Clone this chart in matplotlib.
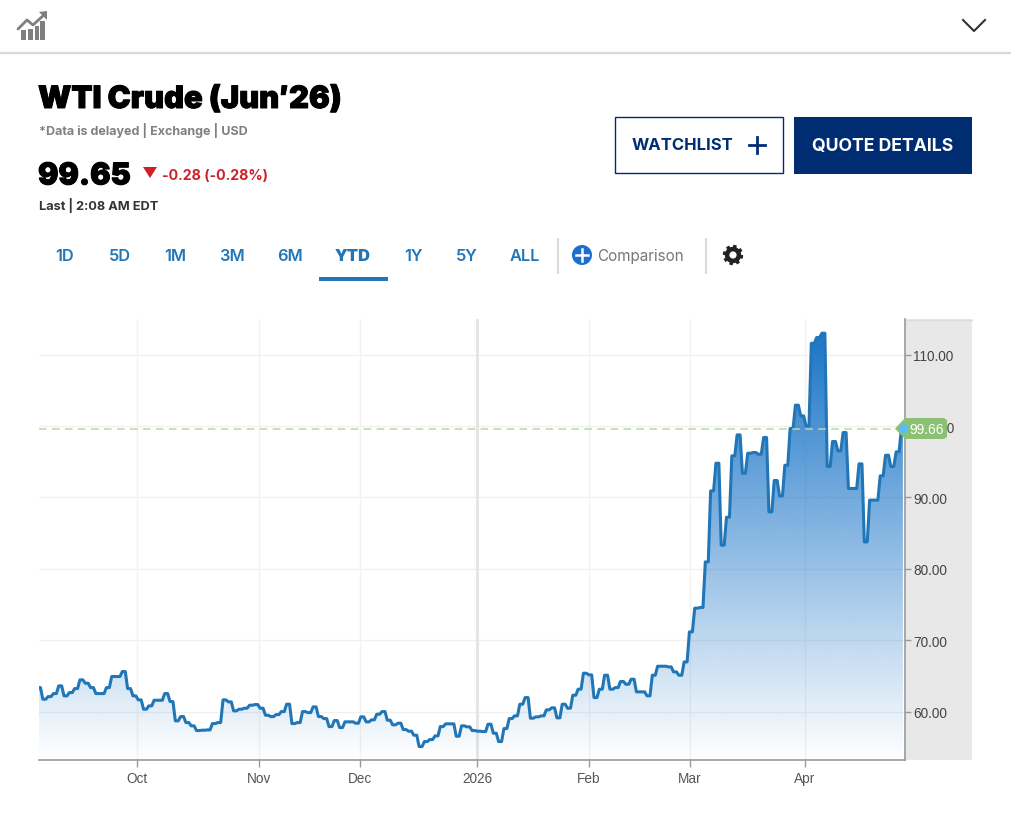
import numpy as np
import matplotlib
matplotlib.use("Agg")
import matplotlib.pyplot as plt
import matplotlib.patheffects as pe
from matplotlib.patches import Rectangle, Polygon, Circle
from matplotlib.ticker import FixedLocator, FuncFormatter
from matplotlib.colors import LinearSegmentedColormap

prices = [
 63.38,61.75,62.12,62.54,63.62,62.22,62.68,63.24,64.46,63.99,63.38,62.54,62.54,63.38,64.93,64.93,65.63,63.24,62.22,61.66,
 60.35,60.82,61.61,61.61,62.54,61.42,58.72,59.32,58.48,58.02,57.36,57.41,57.45,58.34,58.48,61.66,61.38,60.12,60.35,60.49,
 60.91,61.00,60.49,59.51,59.32,59.60,60.02,61.05,58.34,58.48,60.02,59.88,60.68,59.32,59.04,57.92,58.76,57.78,58.58,58.58,
 58.39,59.28,58.58,58.86,59.65,60.02,58.81,58.16,58.39,57.50,57.27,56.71,55.12,55.82,56.10,56.61,57.92,58.30,58.30,56.57,
 58.02,57.88,57.36,57.27,57.22,58.25,56.99,55.82,57.64,59.04,59.42,61.05,61.98,59.09,59.28,59.42,60.26,60.54,59.14,61.05,
 60.49,62.31,63.15,65.39,65.16,61.98,63.15,65.11,63.15,63.38,64.23,63.85,64.55,62.78,62.78,62.22,65.11,66.37,66.37,66.28,
 65.58,65.11,66.97,71.18,74.50,74.60,80.98,90.92,94.80,83.32,87.24,95.83,98.77,93.40,96.20,96.30,96.06,98.40,87.98,92.38,
 90.22,94.52,99.66,102.93,101.43,100.03,111.60,112.40,113.01,94.34,97.84,96.53,99.10,91.26,91.26,94.71,83.78,89.63,89.63,93.03,
 95.92,94.34,96.39,99.66]
month_labels = ["Oct", "Nov", "Dec", "2026", "Feb", "Mar", "Apr"]
month_index = [18.5, 41.5, 60.6, 82.7, 103.8, 122.8, 144.5]
y_ticks = [60, 70, 80, 90, 100, 110]
last_price = 99.66
tabs = ["1D", "5D", "1M", "3M", "6M", "YTD", "1Y", "5Y", "ALL"]
tab_x = [65, 120, 175, 232, 290, 353, 413, 467, 525]

W, H = 1011, 828
SANS = "Liberation Sans"
UI = "Inter"
NAVY = "#002d72"
BLUE = "#2176b8"

fig = plt.figure(figsize=(W / 100, H / 100), dpi=100, facecolor="white")


def make_ui(z):
    a = fig.add_axes([0, 0, 1, 1], zorder=z)
    a.set_xlim(0, W)
    a.set_ylim(H, 0)
    a.axis("off")
    return a


back = make_ui(0)
front = make_ui(2)

# chart panel
L, R, T, B = 39, 905, 320.2, 761.2
back.add_patch(Rectangle((R, T), 972 - R, B - T, fc="#e8e8e8", ec="none"))
back.plot([L, 972], [320.5, 320.5], color="#dcdcdc", lw=1)

ax = fig.add_axes([L / W, 1 - B / H, (R - L) / W, (B - T) / H], zorder=1)
idx = np.arange(len(prices), dtype=float)
values = np.array(prices)
step_px = 5.3
YMIN, YMAX = 53.21, 114.97
ax.set_xlim(0, (R - L) / step_px)
ax.set_ylim(YMIN, YMAX)

# plateau shape of each session, as the source chart renders it
xs = np.column_stack([idx - 0.28, idx + 0.28]).ravel()
ys = np.repeat(values, 2)
xs = np.clip(xs, 0, idx[-1])

ax.grid(False)
for v in y_ticks:
    ax.axhline(v, color="#f0f0f0", lw=1, zorder=1)
for lab, m in zip(month_labels, month_index):
    ax.axvline(m, color="#e4e4e4" if lab == "2026" else "#f2f2f2",
               lw=2 if lab == "2026" else 1.0, zorder=1)

cmap = LinearSegmentedColormap.from_list("f", [(26/255, 117/255, 200/255, 0.0), (26/255, 117/255, 200/255, 1.0)])
grad = np.linspace(1, 0, 256).reshape(-1, 1)
top = values.max()
im = ax.imshow(grad, cmap=cmap, vmin=0, vmax=1, extent=[0, idx[-1], YMIN, top],
               aspect="auto", zorder=2, interpolation="bilinear")
ax.set_xlim(0, (R - L) / step_px)
ax.set_ylim(YMIN, YMAX)
poly = Polygon(np.column_stack([np.r_[xs[0], xs, xs[-1]], np.r_[YMIN, ys, YMIN]]),
               closed=True, transform=ax.transData, fc="none", ec="none")
ax.add_patch(poly)
im.set_clip_path(poly)

ax.plot(xs, ys, color=BLUE, lw=2.2, solid_joinstyle="round", zorder=3)

ax.yaxis.tick_right()
ax.yaxis.set_major_locator(FixedLocator(y_ticks))
ax.yaxis.set_major_formatter(FuncFormatter(lambda v, p: f"{v:.2f}"))
ax.xaxis.set_major_locator(FixedLocator(month_index))
ax.set_xticklabels(month_labels, fontfamily=SANS, fontsize=9.8, color="#555555")
ax.tick_params(axis="y", length=4, width=1, color="#999999", pad=2, labelsize=9.8, labelcolor="#444444")
ax.tick_params(axis="x", length=5, width=1, color="#999999", pad=3)
for t in ax.get_yticklabels():
    t.set_fontfamily(SANS)
for s in ["top", "left"]:
    ax.spines[s].set_visible(False)
for s in ["right", "bottom"]:
    ax.spines[s].set_color("#999999")
    ax.spines[s].set_linewidth(1.2)

# current price marker and dashed line
py = T + (YMAX - last_price) / (YMAX - YMIN) * (B - T)
front.plot([L, 896], [py, py], color="#b8d9a8", lw=1.1, dashes=(5, 3.5))
front.add_patch(Polygon([(895, py), (905, 419), (944, 419), (947, 421), (947, 438), (944, 440), (905, 440)],
                        closed=True, fc="#8cc173", ec="none", zorder=5))
front.add_patch(Circle((904, py), 4.6, fc="#5cbcf7", ec="none", zorder=6))
front.text(909, py + 0.5, f"{last_price:.2f}", color="white", fontsize=10, family=SANS, va="center", ha="left", zorder=7)

# header
front.plot([0, W], [54, 54], color="#d9d9d9", lw=1.6)
front.plot([963, 974, 985], [21, 32, 21], color="#333333", lw=1.5)
for x0, top_y, wd in zip([21, 28, 35, 40], [31, 30, 27, 22], [5, 4.5, 3.5, 4.5]):
    front.add_patch(Rectangle((x0, top_y), wd, 41 - top_y, fc="#7f7f7f", ec="none"))
front.plot([18, 27, 33, 45], [30, 21, 26, 15], color="#7f7f7f", lw=2, solid_capstyle="round")
front.add_patch(Polygon([(47, 12), (47, 21), (39, 13)], closed=True, fc="#7f7f7f", ec="none"))

front.text(38, 101, "WTI Crude (Jun\u203226)", fontsize=22.2, family=UI, weight="black", color="black", va="center", ha="left",
           path_effects=[pe.withStroke(linewidth=0.7, foreground="black")])
front.text(39, 130, "*Data is delayed | Exchange | USD", fontsize=9, family=UI, weight="bold", color="#808080", va="center", ha="left")
front.text(38, 177.5, "99.65", fontsize=21.8, family=UI, weight="black", color="black", va="center", ha="left",
           path_effects=[pe.withStroke(linewidth=0.7, foreground="black")])
front.add_patch(Polygon([(143, 168), (157, 168), (150, 179)], closed=True, fc="#cf2027", ec="none"))
front.text(162, 175.5, "-0.28 (-0.28%)", fontsize=10.2, family=UI, weight="bold", color="#cc2229", va="center", ha="left")
front.text(39, 206, "Last | 2:08 AM EDT", fontsize=9.2, family=UI, weight="bold", color="#333333", va="center", ha="left")

# buttons
front.add_patch(Rectangle((614.5, 118), 168, 56, fc="white", ec=NAVY, lw=1))
front.text(632, 146, "WATCHLIST", fontsize=12, family=UI, weight="bold", color=NAVY, va="center", ha="left")
front.plot([749, 765], [146, 146], color=NAVY, lw=2)
front.plot([757, 757], [138, 154], color=NAVY, lw=2)
front.add_patch(Rectangle((794, 117.5), 178, 57, fc=NAVY, ec="none"))
front.text(883, 146, "QUOTE DETAILS", fontsize=12.7, family=UI, weight="bold", color="white", va="center", ha="center")

# tabs
for lab, x in zip(tabs, tab_x):
    front.text(x, 257, lab, fontsize=11.8, family=UI, weight="black" if lab == "YTD" else "semibold",
               color=BLUE, va="center", ha="center")
front.add_patch(Rectangle((319, 278), 69, 3.5, fc=BLUE, ec="none"))
front.plot([558, 558], [240, 274], color="#d8d8d8", lw=1.4)
front.plot([706, 706], [240, 274], color="#d8d8d8", lw=1.4)
front.add_patch(Circle((582, 256), 10, fc="#1a6fd0", ec="none"))
front.plot([576, 588], [256, 256], color="white", lw=1.8)
front.plot([582, 582], [250, 262], color="white", lw=1.8)
front.text(597, 257, "Comparison", fontsize=11, family=UI, color="#777777", va="center", ha="left")

# gear icon
th = np.linspace(0, 2 * np.pi, 241)
teeth = 9.2 + 1.0 * np.sign(np.sin(8 * th))
front.add_patch(Polygon(np.column_stack([733 + teeth * np.cos(th), 256 + teeth * np.sin(th)]), closed=True, fc="#222222", ec="none"))
front.add_patch(Circle((733, 256), 3.6, fc="white", ec="none"))

fig.savefig("out.png", dpi=100, facecolor="white")
